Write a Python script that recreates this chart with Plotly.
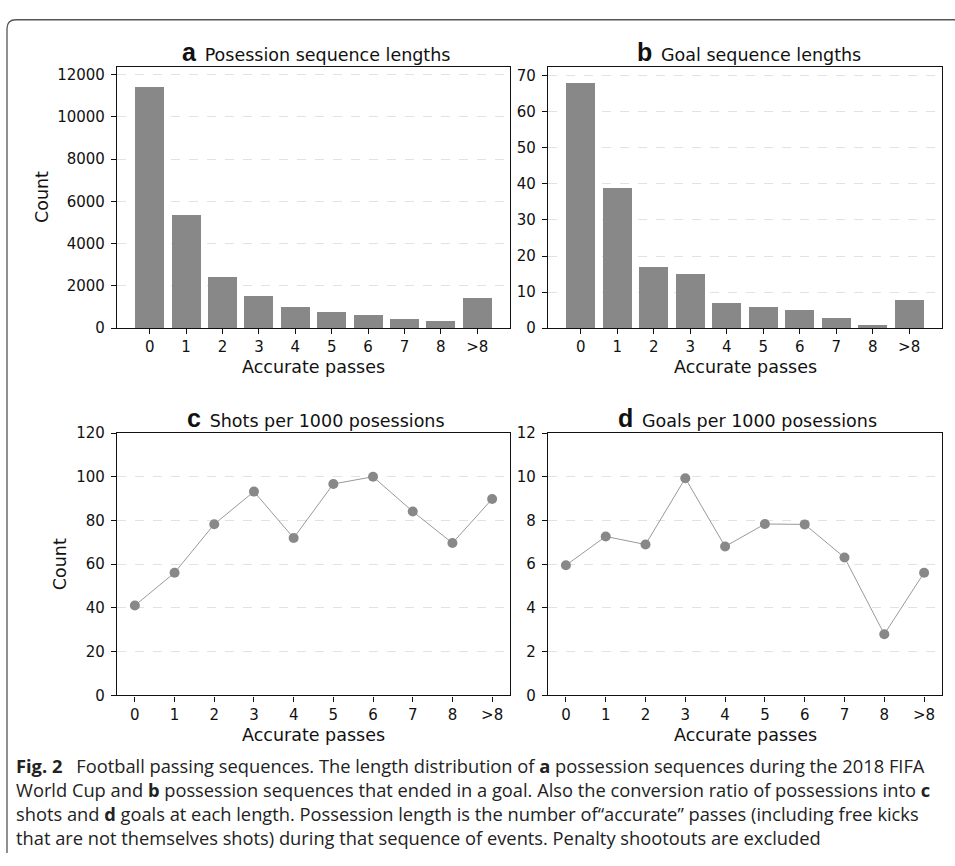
import plotly.graph_objects as go

# ---------------- data ----------------
categories = ["0", "1", "2", "3", "4", "5", "6", "7", "8", ">8"]
possession_counts = [11444, 5374, 2456, 1529, 1019, 788, 649, 463, 371, 1436]
goal_counts = [68, 39, 17, 15, 7, 6, 5, 3, 1, 8]
shots_per_1000 = [41.1, 56.1, 78.3, 93.2, 72.0, 96.7, 100.0, 84.1, 69.7, 89.8]
goals_per_1000 = [5.95, 7.27, 6.90, 9.93, 6.81, 7.84, 7.82, 6.31, 2.80, 5.61]
positions = list(range(len(categories)))

titles = [("a", "Posession sequence lengths"), ("b", "Goal sequence lengths"),
          ("c", "Shots per 1000 posessions"), ("d", "Goals per 1000 posessions")]

W, H = 955, 866
def px(x):
    return x / W
def py(y):
    return 1 - y / H

BAR = "#888888"
TICKFONT = dict(family="DejaVu Sans", size=15, color="#111111")
LABELFONT = dict(family="DejaVu Sans", size=17.5, color="#111111")

fig = go.Figure()
fig.add_trace(go.Bar(x=positions, y=possession_counts, width=0.8, marker_color=BAR,
                     marker_line_width=0, xaxis="x", yaxis="y", showlegend=False))
fig.add_trace(go.Bar(x=positions, y=goal_counts, width=0.8, marker_color=BAR,
                     marker_line_width=0, xaxis="x2", yaxis="y2", showlegend=False))
fig.add_trace(go.Scatter(x=positions, y=shots_per_1000, mode="lines+markers",
                         line=dict(color="#999999", width=1),
                         marker=dict(color=BAR, size=10),
                         xaxis="x3", yaxis="y3", showlegend=False))
fig.add_trace(go.Scatter(x=positions, y=goals_per_1000, mode="lines+markers",
                         line=dict(color="#999999", width=1),
                         marker=dict(color=BAR, size=10),
                         xaxis="x4", yaxis="y4", showlegend=False))

colx = [(117, 510), (548, 942)]
rowy = [(59, 326), (433, 701)]

def xaxis(dom, anchor, rng):
    return dict(domain=[px(dom[0]), px(dom[1])], anchor=anchor, range=rng,
                tickmode="array", tickvals=positions, ticktext=categories,
                showline=True, linecolor="#111111", linewidth=1.3, mirror=True,
                ticks="outside", ticklen=5, tickwidth=1.1, tickcolor="#111111",
                ticklabelstandoff=0,
                showgrid=False, zeroline=False, tickfont=TICKFONT)

def yaxis(dom, anchor, rng, dtick):
    return dict(domain=[py(dom[1]), py(dom[0])], anchor=anchor, range=rng, dtick=dtick,
                tickformat="d",
                showline=True, linecolor="#111111", linewidth=1.3, mirror=True,
                ticks="outside", ticklen=5, tickwidth=1.1, tickcolor="#111111",
                ticklabelstandoff=3,
                showgrid=True, gridcolor="#e2e2e2", griddash="dash", gridwidth=1,
                zeroline=False, tickfont=TICKFONT)

layout = dict(
    width=W, height=H, margin=dict(l=0, r=0, t=0, b=0),
    paper_bgcolor="white", plot_bgcolor="white", bargap=0,
    xaxis=xaxis(colx[0], "y", [-0.9, 9.9]),
    yaxis=yaxis(rowy[0], "x", [0, 12370], 2000),
    xaxis2=xaxis(colx[1], "y2", [-0.9, 9.9]),
    yaxis2=yaxis(rowy[0], "x2", [0, 72.4], 10),
    xaxis3=xaxis(colx[0], "y3", [-0.45, 9.45]),
    yaxis3=yaxis(rowy[1], "x3", [0, 120], 20),
    xaxis4=xaxis(colx[1], "y4", [-0.45, 9.45]),
    yaxis4=yaxis(rowy[1], "x4", [0, 12], 2),
)
fig.update_layout(**layout)

ann = []
title_pos = [(316, 44), (749, 44), (316, 418), (747, 418)]
for (letter, t), (cx, cy) in zip(titles, title_pos):
    ann.append(dict(x=px(cx), y=py(cy), xref="paper", yref="paper",
                    text=f"<span style='font-family:Liberation Sans;font-weight:bold;font-size:25px'>{letter}</span>\u2002{t}",
                    showarrow=False, xanchor="center", yanchor="middle", font=LABELFONT))

for cx, cy in [(313, 366), (745, 366), (313, 741), (745, 741)]:
    ann.append(dict(x=px(cx), y=py(cy), xref="paper", yref="paper", text="Accurate passes",
                    showarrow=False, xanchor="center", yanchor="middle", font=LABELFONT))
for cx, cy in [(42, 192), (60, 567)]:
    ann.append(dict(x=px(cx), y=py(cy), xref="paper", yref="paper", text="Count", textangle=-90,
                    showarrow=False, xanchor="center", yanchor="middle", font=LABELFONT))

caption = [
    "<b>Fig. 2</b>\u2002 Football passing sequences. The length distribution of <b>a</b> possession sequences during the 2018 FIFA",
    "World Cup and <b>b</b> possession sequences that ended in a goal. Also the conversion ratio of possessions into <b>c</b>",
    "shots and <b>d</b> goals at each length. Possession length is the number of\u201caccurate\u201d passes (including free kicks",
    "that are not themselves shots) during that sequence of events. Penalty shootouts are excluded",
]
for i, line in enumerate(caption):
    ann.append(dict(x=px(14), y=py(773 + 24.2 * i), xref="paper", yref="paper", text=line,
                    showarrow=False, xanchor="left", yanchor="middle",
                    font=dict(family="Open Sans", size=18.3, color="#222222")))

fig.update_layout(annotations=ann)

border = (f"M {px(7)},{py(862)} L {px(7)},{py(20)} Q {px(7)},{py(11)} {px(16)},{py(11)} "
          f"L {px(955)},{py(11)}")
fig.add_shape(type="path", path=border, xref="paper", yref="paper",
              line=dict(color="#555555", width=1.3))

fig.write_html("out.html", config={"displayModeBar": False},
               post_script="document.body.style.margin='0';document.body.style.padding='0';"
                           "document.documentElement.style.overflow='hidden';")
